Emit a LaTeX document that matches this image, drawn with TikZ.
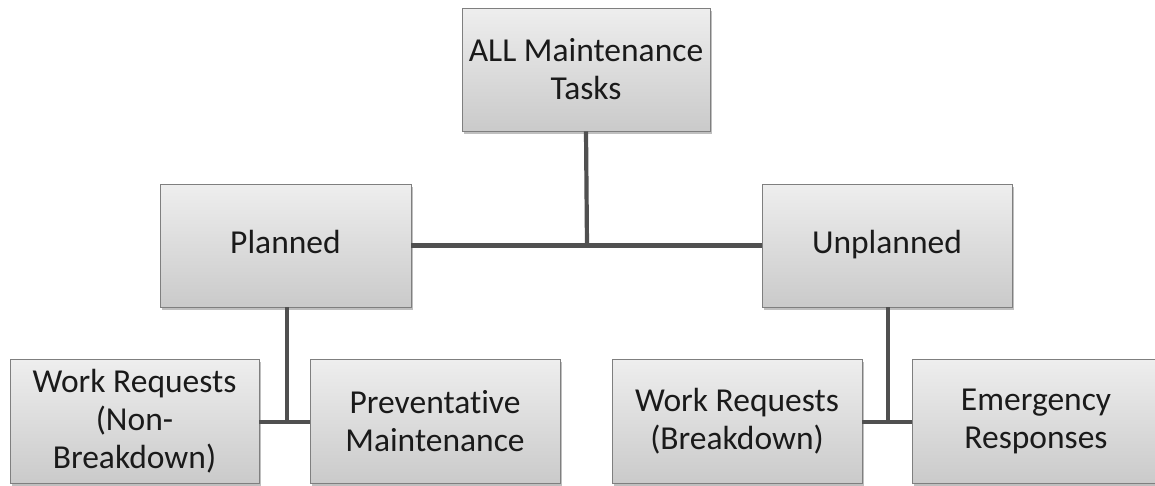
\documentclass[tikz,border=0pt]{standalone}
\usepackage{fontspec}
\setmainfont{Carlito}[Ligatures=NoCommon]
\usetikzlibrary{shadows}
\definecolor{boxtop}{HTML}{EEEEEE}
\definecolor{boxbot}{HTML}{CACACA}
\definecolor{boxline}{HTML}{7F7F7F}
\definecolor{linkgray}{HTML}{505050}
\definecolor{labeltext}{HTML}{1A1A1A}
\tikzset{
  x=1pt, y=1pt,
  taskbox/.style={draw=boxline, line width=0.9pt, top color=boxtop, bottom color=boxbot,
    minimum height=123pt, inner sep=0pt, align=center, text=labeltext,
    font=\fontsize{33.5}{38}\selectfont,
    drop shadow={shadow xshift=2pt, shadow yshift=-2.5pt, opacity=0.25, fill=black}},
  oneline/.style={text height=23pt, text depth=8pt},
  link/.style={draw=linkgray, line width=4.2pt}
}
\begin{document}
\begin{tikzpicture}
\useasboundingbox (0,0) rectangle (1155,-485);
\begin{scope}
\clip (0,0) rectangle (1155,-485);
% junction points of the tree
\coordinate (hub) at (587,-246);
\coordinate (pj) at (287,-422);
\coordinate (uj) at (888,-422);

\node[taskbox, minimum width=248pt] (all) at (586,-69.5) {ALL Maintenance\\Tasks};
\node[taskbox, oneline, minimum width=251pt] (plan) at (285.5,-245.5) {Planned};
\node[taskbox, oneline, minimum width=250pt] (unplan) at (887,-245.5) {Unplanned};
\node[taskbox, minimum width=249pt, minimum height=124pt] (wrn) at (134.5,-421.5) {Work Requests\\(Non-\\Breakdown)};
\node[taskbox, minimum width=250pt, minimum height=124pt] (prev) at (435,-421.5) {Preventative\\Maintenance};
\node[taskbox, minimum width=250pt, minimum height=124pt] (wrb) at (737,-421.5) {Work Requests\\(Breakdown)};
\node[taskbox, minimum width=248pt, minimum height=124pt] (emr) at (1036,-421.5) {Emergency\\Responses};

\draw[link] (all.south) -- (hub);
\draw[link] (plan.east) -- (unplan.west);
\draw[link] (plan.south -| pj) -- (pj);
\draw[link] (wrn.east |- pj) -- (prev.west |- pj);
\draw[link] (unplan.south -| uj) -- (uj);
\draw[link] (wrb.east |- uj) -- (emr.west |- uj);
\end{scope}
\end{tikzpicture}
\end{document}
